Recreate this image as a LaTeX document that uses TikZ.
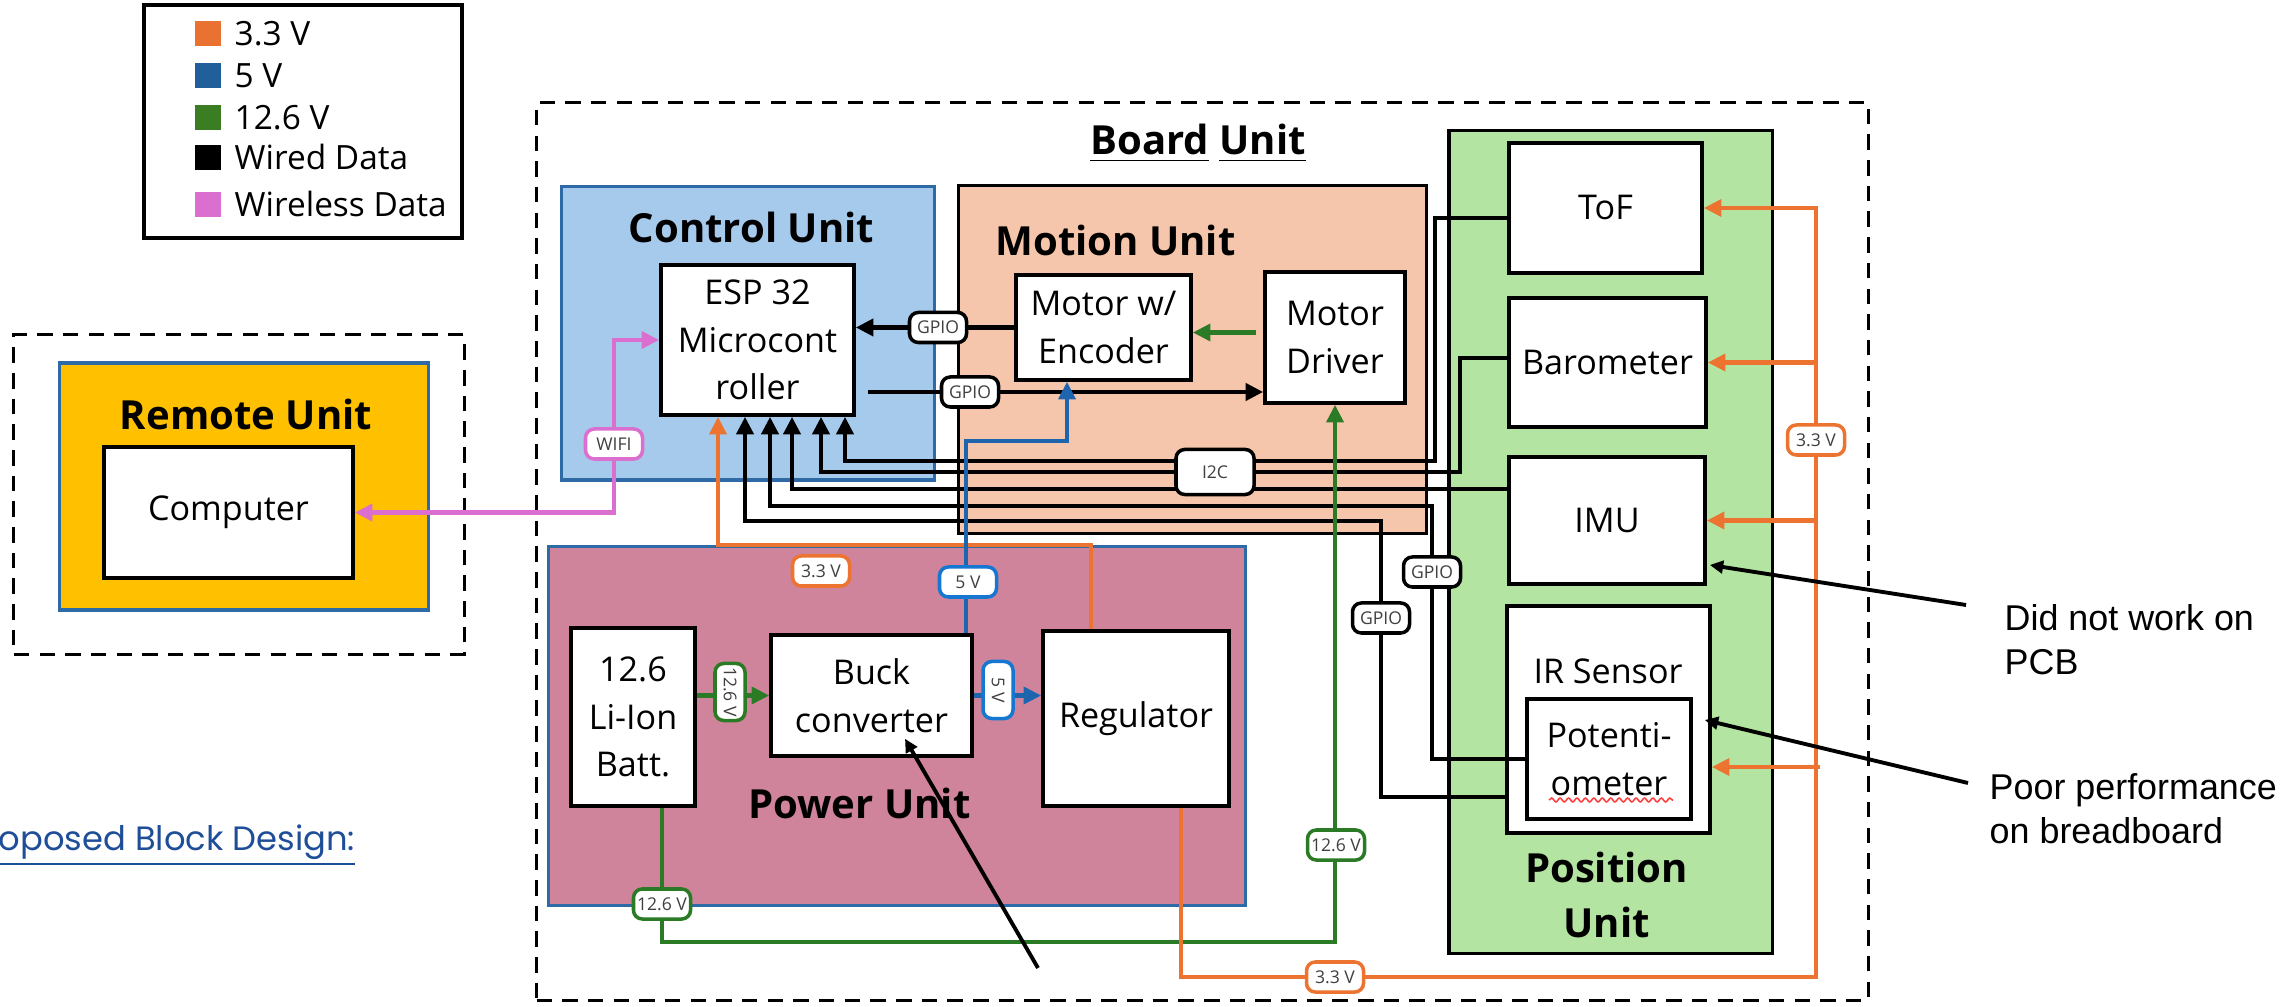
\documentclass[tikz,border=0pt]{standalone}
\usepackage{fontspec}
\setmainfont{Open Sans}
\newfontfamily\notefont{Liberation Sans}
\newfontfamily\capfont{Poppins}
\usetikzlibrary{arrows.meta,positioning,calc,decorations.pathmorphing}

\definecolor{volta}{HTML}{EC7430}
\definecolor{voltb}{HTML}{1F65AE}
\definecolor{voltbtag}{HTML}{1677D2}
\definecolor{voltc}{HTML}{2B7A25}
\definecolor{wlink}{HTML}{DA6FD0}
\definecolor{ctrlfill}{HTML}{A6CAEC}
\definecolor{unitline}{HTML}{2E6AA6}
\definecolor{motfill}{HTML}{F6C6AC}
\definecolor{pwrfill}{HTML}{CF849C}
\definecolor{posfill}{HTML}{B4E4A1}
\definecolor{remfill}{HTML}{FFC000}
\definecolor{capblue}{HTML}{1F4E99}
\definecolor{lgorange}{HTML}{E97132}
\definecolor{lgblue}{HTML}{215F9A}
\definecolor{lggreen}{HTML}{3B7D23}

\begin{document}
\begin{tikzpicture}[x=0.01cm, y=-0.01cm,
  outline/.style={draw, line width=0.9pt, dash pattern=on 4.4pt off 2.9pt},
  unit/.style={line width=0.9pt, inner sep=0pt},
  blk/.style={draw, fill=white, line width=1pt, align=center, inner sep=0pt,
    font=\fontsize{9.7}{13.5}\selectfont},
  ttl/.style={inner sep=0pt, align=center, font=\bfseries\fontsize{11.4}{15.4}\selectfont},
  tag/.style={draw=#1, fill=white, rounded corners=2.5pt, line width=1pt, inner sep=0pt,
    minimum width=0.57cm, minimum height=0.30cm, text=black!75,
    font=\fontsize{5}{6}\selectfont},
  tag/.default=black,
  arr/.style={-{Triangle[length=5pt,width=4.8pt]}},
  bus/.style={line width=1.3pt},
  pwr/.style={line width=1.15pt, draw=#1},
  note/.style={inner sep=0pt, align=left, font=\notefont\fontsize{10.2}{12.5}\selectfont},
  pointer/.style={line width=1.1pt, -{Triangle[length=3.8pt,width=3.6pt]}}
]
  \useasboundingbox (0,0) rectangle (2292,1007);

  % legend
  \node[draw, line width=1.2pt, minimum width=3.18cm, minimum height=2.33cm] (legend) at (303,121.5) {};
  \foreach \c/\txt/\y in {lgorange/3.3 V/34, lgblue/5 V/76, lggreen/12.6 V/118, black/Wired Data/158, wlink/Wireless Data/205} {
    \fill[\c] (195,\y-12.5) rectangle (221,\y+12.5);
    \node[anchor=base west, inner sep=0pt, font=\fontsize{9.5}{12}\selectfont] (lg\y) at (234,\y+11.5) {\txt};
  }

  % remote unit
  \node[outline, minimum width=4.5cm, minimum height=3.19cm] (remote) at (239,494.5) {};
  \node[unit, draw=unitline, fill=remfill, minimum width=3.68cm, minimum height=2.47cm] (remunit) at (244,486.5) {};
  \node[ttl] (remttl) at (246,414) {Remote Unit};
  \node[blk, minimum width=2.49cm, minimum height=1.31cm] (comp) at (228.5,512.5) {Computer};

  % board unit
  \node[outline, minimum width=13.31cm, minimum height=8.97cm] (board) at (1202.5,551.5) {};
  \node[ttl, anchor=base] (boardttl) at (1198,155) {\underline{Board} \underline{Unit}};

  % sub units
  \node[unit, draw=unitline, fill=ctrlfill, minimum width=3.72cm, minimum height=2.93cm] (ctrl) at (748,333.5) {};
  \node[unit, draw, fill=motfill, minimum width=4.67cm, minimum height=3.47cm] (motion) at (1192.5,359.5) {};
  \node[unit, draw, fill=posfill, minimum width=3.23cm, minimum height=8.22cm] (pos) at (1610.5,542) {};
  \node[unit, draw=unitline, fill=pwrfill, minimum width=6.96cm, minimum height=3.58cm] (power) at (897,726) {};
  \node[ttl] (ctrlttl) at (751.5,227) {Control Unit};
  \node[ttl] (motttl) at (1115.5,240) {Motion Unit};
  \node[ttl] (posttl) at (1606.5,895) {Position\\Unit};
  \node[ttl] (pwrttl) at (859.5,803) {Power Unit};

  % blocks
  \node[blk, minimum width=1.93cm, minimum height=1.5cm] (esp) at (757.5,340) {ESP 32\\Microcont\\roller};
  \node[blk, minimum width=1.75cm, minimum height=1.05cm] (enc) at (1103.5,327.5) {Motor w/\\Encoder};
  \node[blk, minimum width=1.4cm, minimum height=1.31cm] (drv) at (1335,337.5) {Motor\\Driver};
  \node[blk, minimum width=1.93cm, minimum height=1.3cm] (tof) at (1605.5,208) {ToF};
  \node[blk, minimum width=1.97cm, minimum height=1.29cm] (baro) at (1607.5,362.5) {Barometer};
  \node[blk, minimum width=1.96cm, minimum height=1.27cm] (imu) at (1607,520.5) {IMU};
  \node[blk, minimum width=2.03cm, minimum height=2.27cm] (ir) at (1608.5,719.5) {};
  \node[inner sep=0pt, font=\fontsize{9.7}{13.5}\selectfont] (irtxt) at (1608,671) {IR Sensor};
  \node[blk, minimum width=1.64cm, minimum height=1.2cm] (pot) at (1609,759) {Potenti-\\ometer};
  \node[blk, minimum width=1.24cm, minimum height=1.78cm] (batt) at (633,717) {12.6\\Li-Ion\\Batt.};
  \node[blk, minimum width=2.01cm, minimum height=1.21cm] (buck) at (871.5,695.5) {Buck\\converter};
  \node[blk, minimum width=1.86cm, minimum height=1.75cm] (reg) at (1136,718.5) {Regulator};
  \draw[red!75, line width=0.45pt, decorate, decoration={snake, amplitude=0.55pt, segment length=2.4pt}] (1549,800) -- (1673,800);

  % wired data
  \draw[bus, arr] ($(tof.west)+(0,10)$) -| (1435,461) -| ($(esp.south)+(87.5,0)$);
  \draw[bus, arr] ($(baro.west)+(0,-4.5)$) -| (1460,472) -| ($(esp.south)+(63.5,0)$);
  \draw[bus, arr] ($(imu.west)+(0,-31.5)$) -| ($(esp.south)+(34.5,0)$);
  \draw[bus, arr] (pot.west) -| (1432,506) -| ($(esp.south)+(12.5,0)$);
  \draw[bus, arr] ($(ir.west)+(0,77.5)$) -| (1381,521) -| ($(esp.south)+(-12.5,0)$);
  \draw[bus, arr] (enc.west) -- (enc.west -| esp.east);
  \draw[bus, arr] ($(esp.east)+(12,52)$) -- ($(drv.west)+(0,54.5)$);

  % power lines
  \draw[pwr=volta, arr] ($(reg.north)+(-45,0)$) |- ($(esp.south)+(-39.5,128)$) -- ($(esp.south)+(-39.5,0)$);
  \draw[pwr=voltb, arr] ($(buck.north)+(94.5,0)$) |- ($(enc.south)+(-36.5,59)$) -- ($(enc.south)+(-36.5,0)$);
  \draw[pwr=voltc, arr] ($(batt.south)+(29,0)$) |- ($(drv.south)+(0,537)$) -- (drv.south);
  \coordinate (dg) at ($(drv.west)+(-7,-5)$);
  \draw[pwr=voltc, arr] (dg) -- (dg -| enc.east);
  \draw[pwr=voltc, arr] (batt.east |- buck.west) -- (buck.west);
  \draw[pwr=voltb, arr] (buck.east) -- (buck.east -| reg.west);
  \coordinate (rail) at (1816,977);
  \draw[pwr=volta, arr] ($(reg.south)+(45,0)$) |- (rail) |- (tof.east);
  \draw[pwr=volta, arr] (rail |- baro.east) -- (baro.east);
  \draw[pwr=volta, arr] (rail |- imu.east) -- (imu.east);
  \draw[pwr=volta, arr] ($(rail |- ir.east)+(4,47.5)$) -- ($(ir.east)+(0,47.5)$);

  % wireless
  \coordinate (wifipt) at (614,444);
  \draw[pwr=wlink, {Triangle[length=5pt,width=4.8pt]}-{Triangle[length=5pt,width=4.8pt]}] (comp.east) -| (wifipt) |- (esp.west);

  % line tags
  \node[tag=wlink] (wifi) at (wifipt) {WIFI};
  \node[tag] (gpioa) at (938,327.5) {GPIO};
  \node[tag] (gpiob) at (970,392) {GPIO};
  \node[tag, minimum width=0.78cm, minimum height=0.45cm] (i2c) at (1215,472) {I2C};
  \node[tag] (gpioc) at (1432,572) {GPIO};
  \node[tag] (gpiod) at (1381,618) {GPIO};
  \node[tag=volta] (tagpwr) at (821,571) {3.3 V};
  \node[tag=voltbtag] (tagfive) at (968,582) {5 V};
  \node[tag=voltc] (tagbatt) at (662,904) {12.6 V};
  \node[tag=voltc] (tagdrv) at (1336,845) {12.6 V};
  \node[tag=volta] (tagbot) at (1335,977) {3.3 V};
  \node[tag=volta] (tagrail) at (1816,440) {3.3 V};
  \node[tag=voltc, rotate=-90] (tagbb) at (730,692) {12.6 V};
  \node[tag=voltbtag, rotate=-90] (tagbr) at (998,690) {5 V};

  % notes
  \node[note, anchor=west] (noteimu) at (2004,640) {Did not work on\\PCB};
  \node[note, anchor=west] (notepot) at (1989,809) {Poor performance\\on breadboard};
  \draw[pointer] ($(noteimu.west)+(-38,-35)$) -- ($(imu.east)+(3,44.5)$);
  \draw[pointer] ($(notepot.west)+(-21,-26)$) -- ($(ir.east)+(-7,0.5)$);
  \coordinate (buckptr) at (1038,968);
  \draw[pointer] (buckptr) -- ($(buck.south)+(33.5,-19)$);

  % caption
  \node[anchor=base west, inner sep=0pt, text=capblue, font=\capfont\fontsize{9.6}{12}\selectfont] (capt) at (-2,850) {\underline{oposed Block Design:}};
\end{tikzpicture}
\end{document}
